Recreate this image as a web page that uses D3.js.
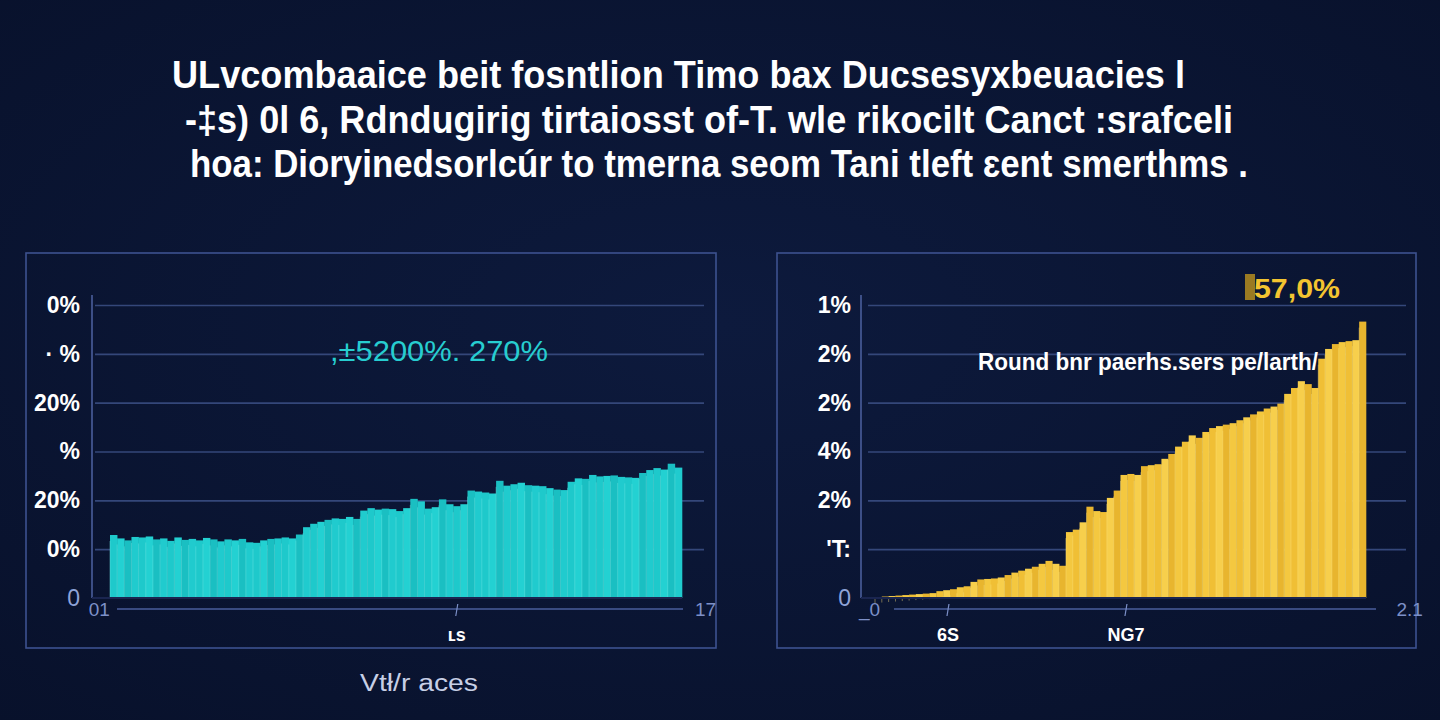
<!DOCTYPE html>
<html>
<head>
<meta charset="utf-8">
<script src="https://cdn.jsdelivr.net/npm/d3@7"></script>
<style>
  html, body { margin: 0; padding: 0; background: #0b1533; }
  body { width: 1440px; height: 720px; overflow: hidden; }
  svg { display: block; }
</style>
</head>
<body>
<div id="root"><svg></svg></div>
<script>
const width = 1440, height = 720;

const titleLines = [
  'ULvcombaaice beit fosntlion Timo bax Ducsesyxbeuacies l',
  '-‡s) 0l 6, Rdndugirig tirtaiosst of-T. wle rikocilt Canct :srafceli',
  'hoa: Dioryinedsorlcúr to tmerna seom Tani tleft ɛent smerthms .'
];

// left panel: teal bars
const leftVals = [1.29,1.22,1.18,1.25,1.24,1.26,1.20,1.22,1.17,1.24,
  1.19,1.21,1.18,1.23,1.20,1.16,1.20,1.18,1.21,1.14,
  1.13,1.18,1.21,1.22,1.24,1.22,1.30,1.45,1.52,1.56,
  1.60,1.63,1.62,1.66,1.62,1.79,1.84,1.81,1.83,1.82,
  1.78,1.84,2.03,1.98,1.83,1.86,2.02,1.92,1.88,1.92,
  2.20,2.18,2.16,2.14,2.40,2.30,2.33,2.36,2.31,2.30,
  2.29,2.25,2.22,2.21,2.38,2.45,2.44,2.52,2.49,2.50,
  2.51,2.48,2.47,2.46,2.56,2.62,2.66,2.63,2.75,2.67];
const leftTicks = ['0', '0%', '20%', '%', '20%', '· %', '0%'];
const leftXTicks = [-1.5, 48.5, 83.3];
const leftXLabels = ['01', 'ʟs', '17'];
const leftNote = ',±5200%. 270%';

// right panel: yellow bars
const rightVals = [0.02,0.03,0.04,0.05,0.06,0.07,0.08,0.09,0.10,0.14,
  0.16,0.18,0.22,0.24,0.33,0.38,0.39,0.40,0.42,0.47,
  0.52,0.56,0.60,0.64,0.70,0.76,0.70,0.66,1.35,1.40,
  1.55,1.87,1.78,1.76,2.05,2.20,2.52,2.54,2.52,2.70,
  2.72,2.74,2.85,2.95,3.10,3.20,3.33,3.28,3.40,3.48,
  3.52,3.55,3.58,3.64,3.70,3.76,3.82,3.88,3.92,3.98,
  4.18,4.30,4.44,4.38,4.30,4.90,5.10,5.20,5.24,5.26,
  5.28,5.66];
const rightTicks = ['0', 'ʹT:', '2%', '4%', '2%', '2%', '1%'];
const rightXTicks = [-0.8, 10.7, 36.8, 78.4];
const rightXLabels = ['_0', '6S', 'NG7', '2.1'];
const rightNote = '57,0%';
const rightCaption = 'Round bnr paerhs.sers pe/larth/';

const footer = 'Vtł/r aces';

const gridColor = '#34477a';
const frameColor = '#3d5290';
const font = '"Liberation Sans", Arial, sans-serif';

const svg = d3.select('#root').select('svg')
  .attr('width', width)
  .attr('height', height);

// soft vignette background
const defs = svg.append('defs');
const bg = defs.append('radialGradient').attr('id', 'bg')
  .attr('cx', '50%').attr('cy', '45%').attr('r', '75%');
bg.append('stop').attr('offset', '0%').attr('stop-color', '#0d1a3d');
bg.append('stop').attr('offset', '100%').attr('stop-color', '#08112b');
svg.append('rect').attr('width', width).attr('height', height).attr('fill', 'url(#bg)');

// title
const titleG = svg.append('g');
const titleBox = [[172, 1185, 88], [185, 1233, 133], [190, 1248, 177]];
titleLines.forEach((t, i) => {
  const [x0, x1, yb] = titleBox[i];
  titleG.append('text')
    .attr('x', x0).attr('y', yb)
    .attr('textLength', x1 - x0)
    .attr('lengthAdjust', 'spacingAndGlyphs')
    .attr('fill', '#ffffff')
    .attr('font-family', '"Liberation Sans Narrow", "Liberation Sans", sans-serif')
    .attr('font-weight', 'bold')
    .attr('font-size', 39)
    .text(t);
});

function drawPanel(cfg) {
  const g = svg.append('g');

  // frame
  g.append('rect')
    .attr('x', cfg.frame[0]).attr('y', cfg.frame[1])
    .attr('width', cfg.frame[2]).attr('height', cfg.frame[3])
    .attr('fill', 'none').attr('stroke', frameColor).attr('stroke-width', 1.6);

  const y = d3.scaleLinear().domain([0, 6]).range([598, 305]);
  const xb = d3.scaleBand().domain(d3.range(cfg.vals.length))
    .range([cfg.barX0, cfg.barX1]).padding(0);
  const xl = d3.scaleLinear().domain([0, cfg.vals.length]).range([cfg.barX0, cfg.barX1]);

  // gridlines
  const grid = g.append('g')
    .attr('transform', `translate(${cfg.gridX1},0)`)
    .call(d3.axisLeft(y).tickValues(d3.range(1, 7)).tickSize(cfg.gridX1 - cfg.gridX0).tickFormat(''));
  grid.select('.domain').remove();
  grid.selectAll('line').attr('stroke', gridColor).attr('stroke-width', 1.6);

  // bars
  g.append('g').selectAll('rect')
    .data(cfg.vals)
    .enter().append('rect')
    .attr('x', (d, i) => xb(i))
    .attr('width', xb.bandwidth() + 0.3)
    .attr('y', d => y(d))
    .attr('height', d => y(0) - y(d))
    .attr('fill', (d, i) => cfg.shades[i % cfg.shades.length]);

  // thin streaks between bars
  g.append('g').selectAll('line')
    .data(cfg.vals)
    .enter().append('line')
    .attr('x1', (d, i) => xb(i)).attr('x2', (d, i) => xb(i))
    .attr('y1', d => y(d) + 6).attr('y2', y(0))
    .attr('stroke', cfg.streak).attr('stroke-width', 0.8).attr('opacity', 0.55);

  // y axis
  const ya = g.append('g')
    .attr('transform', `translate(${cfg.axisX},0)`)
    .call(d3.axisLeft(y).tickValues(d3.range(0, 7)).tickSize(0).tickPadding(cfg.labelPad)
      .tickFormat((d, i) => cfg.yTicks[i]));
  ya.select('.domain').attr('stroke', '#4a5e9c').attr('stroke-width', 1.6)
    .attr('d', `M0,${y(0)}V${y(6) - 10}`);
  ya.selectAll('text')
    .attr('font-family', font).attr('font-size', 23)
    .attr('fill', (d, i) => i === 0 ? '#8fa3d8' : '#ffffff')
    .attr('font-weight', (d, i) => i === 0 ? 'normal' : 'bold');

  // baseline
  g.append('line')
    .attr('x1', cfg.axisX).attr('x2', cfg.barX1)
    .attr('y1', y(0)).attr('y2', y(0))
    .attr('stroke', '#1a2550').attr('stroke-width', 2);

  // lower x rule
  g.append('line')
    .attr('x1', cfg.ruleX0).attr('x2', cfg.ruleX1)
    .attr('y1', 609).attr('y2', 609)
    .attr('stroke', '#4a5e9c').attr('stroke-width', 1.4);

  // x labels
  cfg.xTicks.forEach((t, i) => {
    const isEnd = i === 0 || i === cfg.xTicks.length - 1;
    const px = xl(t);
    if (!isEnd) {
      g.append('line')
        .attr('x1', px - 1).attr('x2', px + 1)
        .attr('y1', 616).attr('y2', 604)
        .attr('stroke', '#7d90c8').attr('stroke-width', 1.2);
    }
    g.append('text')
      .attr('x', px).attr('y', isEnd ? 616 : 641)
      .attr('text-anchor', 'middle')
      .attr('font-family', font)
      .attr('font-size', isEnd ? 19 : 18)
      .attr('font-weight', isEnd ? 'normal' : 'bold')
      .attr('fill', isEnd ? '#7d90c8' : '#ffffff')
      .text(cfg.xLabels[i]);
  });

  return {g, y, xl};
}

const left = drawPanel({
  frame: [26, 253, 690, 395],
  vals: leftVals,
  barX0: 110, barX1: 682,
  gridX0: 95, gridX1: 704,
  axisX: 92, labelPad: 12,
  ruleX0: 117, ruleX1: 683,
  yTicks: leftTicks,
  xTicks: leftXTicks, xLabels: leftXLabels,
  shades: ['#1ec9cb', '#23d1d2', '#1abfc2', '#20cbce'],
  streak: '#6fe6e3'
});

left.g.append('text')
  .attr('x', 330).attr('y', 361)
  .attr('textLength', 218).attr('lengthAdjust', 'spacingAndGlyphs')
  .attr('font-family', font).attr('font-size', 30)
  .attr('fill', '#27cdd0')
  .text(leftNote);

const right = drawPanel({
  frame: [777, 253, 639, 395],
  vals: rightVals,
  barX0: 875, barX1: 1366,
  gridX0: 868, gridX1: 1406,
  axisX: 861, labelPad: 10,
  ruleX0: 894, ruleX1: 1376,
  yTicks: rightTicks,
  xTicks: rightXTicks, xLabels: rightXLabels,
  shades: ['#f4c840', '#f0bf35', '#f7cf4c', '#e8b52e'],
  streak: '#fbe07a'
});

right.g.append('rect')
  .attr('x', 1245).attr('y', 274).attr('width', 10).attr('height', 26)
  .attr('fill', '#9a7a22');
right.g.append('text')
  .attr('x', 1254).attr('y', 298)
  .attr('textLength', 86).attr('lengthAdjust', 'spacingAndGlyphs')
  .attr('font-family', font).attr('font-size', 28).attr('font-weight', 'bold')
  .attr('fill', '#f3c430')
  .text(rightNote);
right.g.append('text')
  .attr('x', 978).attr('y', 370)
  .attr('textLength', 340).attr('lengthAdjust', 'spacingAndGlyphs')
  .attr('font-family', '"Liberation Sans Narrow", "Liberation Sans", sans-serif')
  .attr('font-size', 24).attr('font-weight', 'bold')
  .attr('fill', '#ffffff')
  .text(rightCaption);

// footer label
svg.append('text')
  .attr('x', 360).attr('y', 691)
  .attr('textLength', 118).attr('lengthAdjust', 'spacingAndGlyphs')
  .attr('font-family', font).attr('font-size', 23)
  .attr('fill', '#c7cfe6')
  .text(footer);
</script>
</body>
</html>
